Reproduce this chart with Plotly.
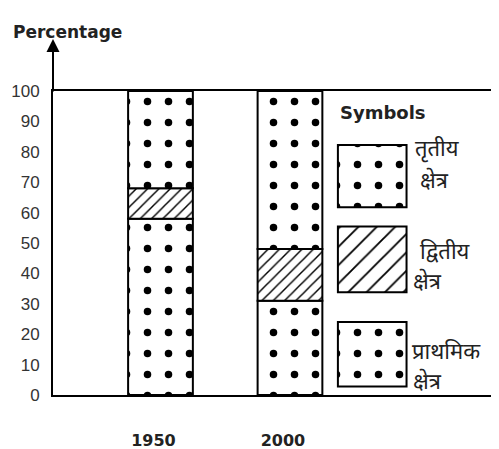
import plotly.graph_objects as go
import numpy as np

years = ["1950", "2000"]
primary = [58, 31]
secondary = [10, 17]
tertiary = [32, 52]
y_ticks = [0, 10, 20, 30, 40, 50, 60, 70, 80, 90, 100]

xpos = list(range(len(years)))
p = np.array(primary)
s = np.array(secondary)
t = np.array(tertiary)

fig = go.Figure()

dot = dict(shape=".", fgcolor="black", bgcolor="white", size=21, solidity=0.1, fgopacity=1)
hatch = dict(shape="/", fgcolor="black", bgcolor="white", size=8, solidity=0.18, fgopacity=1)
hatch_big = dict(shape="/", fgcolor="black", bgcolor="white", size=13, solidity=0.14, fgopacity=1)
line = dict(color="black", width=2)

fig.add_bar(x=xpos, y=p, base=[0] * len(years), width=0.5,
            marker=dict(color="white", line=line, pattern=dot), showlegend=False)
fig.add_bar(x=xpos, y=s, base=p, width=0.5,
            marker=dict(color="white", line=line, pattern=hatch), showlegend=False)
fig.add_bar(x=xpos, y=t, base=p + s, width=0.5,
            marker=dict(color="white", line=line, pattern=dot), showlegend=False)

# "Symbols" key boxes (layout constants)
lx = 1.635
lw = 0.53
boxes = [(2.8, 24.0, dot), (33.8, 55.4, hatch_big), (61.8, 82.2, dot)]
for (b0, b1, pat) in boxes:
    fig.add_bar(x=[lx], y=[b1 - b0], base=[b0], width=lw,
                marker=dict(color="white", line=line, pattern=pat), showlegend=False)

font_dev = "Noto Sans Devanagari, Noto Sans, Lohit Devanagari, sans-serif"
texts = [
    (437, 80.3, "तृतीय"), (434, 70.1, "क्षेत्र"),
    (445, 46.4, "द्वितीय"), (427, 36.8, "क्षेत्र"),
    (446, 13.8, "प्राथमिक"), (427, 3.9, "क्षेत्र"),
]
for px, yv, txt in texts:
    fig.add_annotation(x=(px - 53) / 446, xref="paper", y=yv, yref="y",
                       text=txt, showarrow=False, xanchor="center", yanchor="middle",
                       font=dict(family=font_dev, size=22, color="#222"))

fig.add_annotation(x=(338 - 53) / 446, xref="paper", y=(395 - 112) / 3.04, yref="y",
                   text="<b>Symbols</b>", showarrow=False, xanchor="left",
                   font=dict(family="DejaVu Sans", size=18, color="#222"))

fig.add_annotation(x=(11 - 53) / 446, xref="paper", y=1 + (91 - 20) / 304, yref="paper",
                   text="<b>Percentage</b>", showarrow=False, xanchor="left",
                   font=dict(family="DejaVu Sans", size=17, color="#222"))

# axis arrow
fig.add_annotation(x=0, xref="paper", y=1 + (91 - 39) / 304, yref="paper",
                   ax=0, ay=54, showarrow=True, arrowhead=2, arrowsize=1.3,
                   arrowwidth=2, arrowcolor="black", text="")

fig.update_layout(
    width=491, height=441,
    margin=dict(l=45, r=0, t=83, b=54),
    plot_bgcolor="white", paper_bgcolor="white",
    barmode="overlay", showlegend=False,
    xaxis=dict(range=[-0.83, 2.614], tickmode="array", tickvals=xpos,
               ticktext=["<b>%s</b>" % y for y in years],
               showgrid=False, zeroline=False, showline=True, mirror=True,
               linecolor="black", linewidth=2, ticks="",
               ticklabelstandoff=30, ticklabelshift=-7,
               tickfont=dict(family="DejaVu Sans", size=16, color="#222")),
    yaxis=dict(range=[0, 100], tickvals=y_ticks, showgrid=False, zeroline=False,
               showline=True, linecolor="black", linewidth=2, ticks="",
               ticklabelstandoff=8,
               tickfont=dict(family="Liberation Sans, Arial", size=17, color="#333")),
)

fig.write_html("out.html")
